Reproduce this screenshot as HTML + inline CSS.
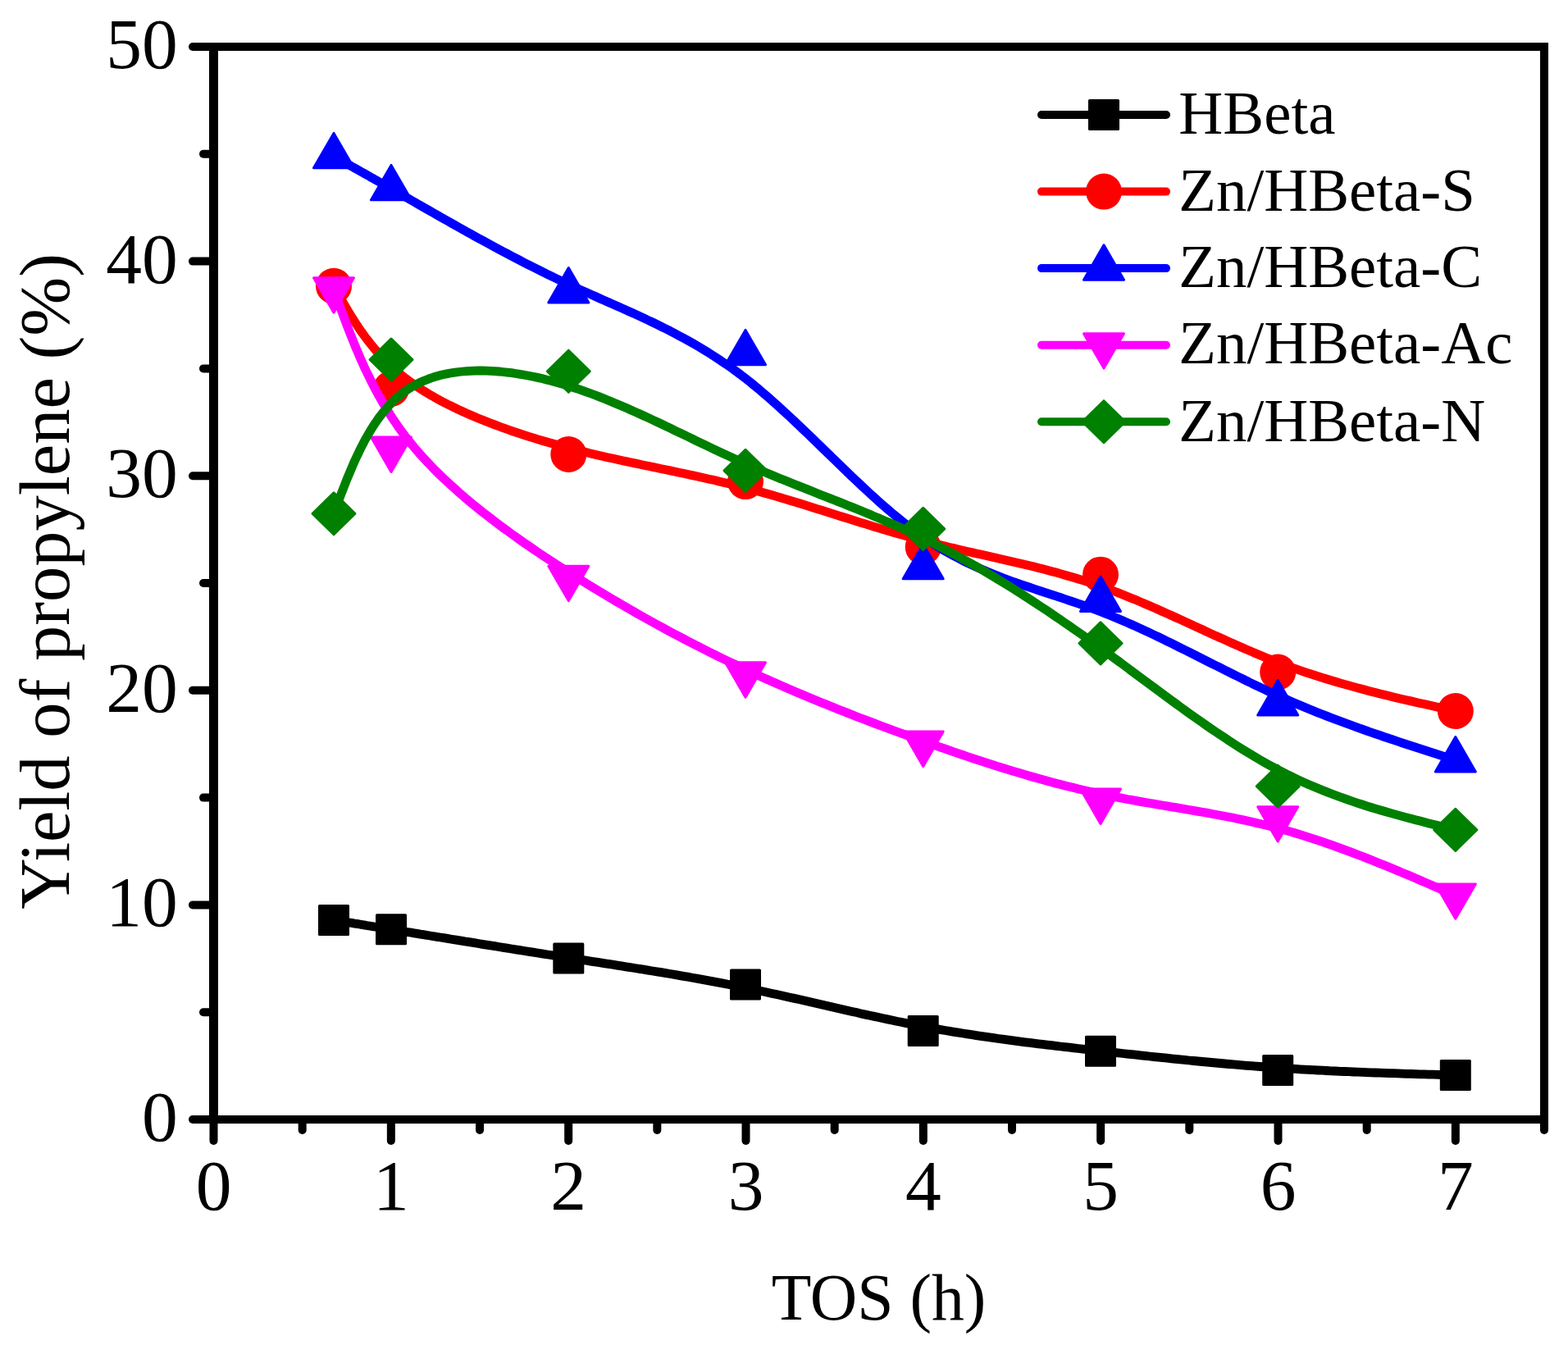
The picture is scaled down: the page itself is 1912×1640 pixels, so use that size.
<!DOCTYPE html>
<html><head><meta charset="utf-8"><title>Yield of propylene vs TOS</title>
<style>
html,body{margin:0;padding:0;background:#fff;}
body{width:1912px;height:1640px;overflow:hidden;}
svg{display:block;font-family:"Liberation Serif","Times New Roman",serif;fill:#000;}
</style></head>
<body>
<svg width="1912" height="1640" viewBox="0 0 1912 1640">
<rect width="1912" height="1640" fill="#fff"/>
<g stroke="#000" stroke-width="10" stroke-linecap="round" fill="none"><line x1="258" y1="1365.00" x2="235.0" y2="1365.00"/><line x1="258" y1="1234.20" x2="248.0" y2="1234.20"/><line x1="258" y1="1103.40" x2="235.0" y2="1103.40"/><line x1="258" y1="972.60" x2="248.0" y2="972.60"/><line x1="258" y1="841.80" x2="235.0" y2="841.80"/><line x1="258" y1="711.00" x2="248.0" y2="711.00"/><line x1="258" y1="580.20" x2="235.0" y2="580.20"/><line x1="258" y1="449.40" x2="248.0" y2="449.40"/><line x1="258" y1="318.60" x2="235.0" y2="318.60"/><line x1="258" y1="187.80" x2="248.0" y2="187.80"/><line x1="258" y1="57.00" x2="235.0" y2="57.00"/><line x1="260.50" y1="1367" x2="260.50" y2="1391.0"/><line x1="368.67" y1="1367" x2="368.67" y2="1378.0"/><line x1="476.83" y1="1367" x2="476.83" y2="1391.0"/><line x1="585.00" y1="1367" x2="585.00" y2="1378.0"/><line x1="693.17" y1="1367" x2="693.17" y2="1391.0"/><line x1="801.33" y1="1367" x2="801.33" y2="1378.0"/><line x1="909.50" y1="1367" x2="909.50" y2="1391.0"/><line x1="1017.67" y1="1367" x2="1017.67" y2="1378.0"/><line x1="1125.83" y1="1367" x2="1125.83" y2="1391.0"/><line x1="1234.00" y1="1367" x2="1234.00" y2="1378.0"/><line x1="1342.17" y1="1367" x2="1342.17" y2="1391.0"/><line x1="1450.33" y1="1367" x2="1450.33" y2="1378.0"/><line x1="1558.50" y1="1367" x2="1558.50" y2="1391.0"/><line x1="1666.67" y1="1367" x2="1666.67" y2="1378.0"/><line x1="1774.83" y1="1367" x2="1774.83" y2="1391.0"/><line x1="1883.00" y1="1367" x2="1883.00" y2="1378.0"/></g>
<g fill="#000"><rect x="255" y="52" width="1633" height="10"/><rect x="255" y="1360" width="1633" height="10"/><rect x="255" y="52" width="11" height="1318"/><rect x="1878" y="52" width="10" height="1318"/></g>
<g font-size="87.5"><text x="216.8" y="1391.0" text-anchor="end">0</text><text x="216.8" y="1129.4" text-anchor="end">10</text><text x="216.8" y="867.8" text-anchor="end">20</text><text x="216.8" y="606.2" text-anchor="end">30</text><text x="216.8" y="344.6" text-anchor="end">40</text><text x="216.8" y="83.0" text-anchor="end">50</text><text x="260.5" y="1474.8" text-anchor="middle">0</text><text x="476.8" y="1474.8" text-anchor="middle">1</text><text x="693.2" y="1474.8" text-anchor="middle">2</text><text x="909.5" y="1474.8" text-anchor="middle">3</text><text x="1125.8" y="1474.8" text-anchor="middle">4</text><text x="1342.2" y="1474.8" text-anchor="middle">5</text><text x="1558.5" y="1474.8" text-anchor="middle">6</text><text x="1774.8" y="1474.8" text-anchor="middle">7</text></g>
<text x="1071.5" y="1608.6" text-anchor="middle" font-size="79.6">TOS (h)</text>
<text transform="translate(83.7 1108.8) rotate(-90)" x="0" y="0" font-size="86.5">Yield of propylene (%)</text>
<path d="M407.0 1121.9L408.8 1122.2 410.5 1122.5 412.3 1122.8 414.0 1123.0 415.8 1123.3 417.6 1123.6 419.4 1123.9 421.2 1124.2 423.0 1124.5 424.9 1124.8 426.8 1125.1 428.7 1125.4 430.6 1125.7 432.5 1126.1 434.5 1126.4 436.6 1126.7 438.6 1127.0 440.7 1127.4 442.9 1127.7 445.0 1128.1 447.3 1128.5 449.6 1128.8 451.9 1129.2 454.3 1129.6 456.7 1130.0 459.2 1130.4 461.7 1130.8 464.4 1131.2 467.0 1131.7 469.8 1132.1 472.6 1132.6 475.5 1133.0 478.4 1133.5 481.5 1134.0 484.6 1134.5 487.8 1135.0 491.0 1135.6 494.4 1136.1 497.8 1136.7 501.4 1137.2 505.0 1137.8 508.7 1138.4 512.5 1139.1 516.4 1139.7 520.4 1140.3 524.4 1141.0 528.5 1141.7 532.7 1142.3 537.0 1143.0 541.4 1143.7 545.8 1144.4 550.3 1145.2 554.8 1145.9 559.4 1146.6 564.1 1147.4 568.8 1148.2 573.6 1148.9 578.4 1149.7 583.3 1150.5 588.2 1151.3 593.2 1152.1 598.2 1152.9 603.2 1153.7 608.3 1154.5 613.4 1155.3 618.6 1156.1 623.8 1157.0 629.0 1157.8 634.3 1158.6 639.6 1159.5 644.9 1160.3 650.2 1161.1 655.5 1162.0 660.9 1162.8 666.2 1163.7 671.6 1164.5 677.0 1165.4 682.4 1166.2 687.8 1167.0 693.2 1167.9 698.6 1168.7 704.0 1169.6 709.4 1170.4 714.8 1171.2 720.2 1172.1 725.6 1172.9 731.0 1173.7 736.4 1174.6 741.8 1175.4 747.2 1176.2 752.6 1177.1 758.0 1177.9 763.4 1178.8 768.8 1179.6 774.2 1180.5 779.6 1181.3 785.0 1182.2 790.4 1183.1 795.8 1184.0 801.2 1184.8 806.6 1185.7 812.0 1186.6 817.4 1187.5 822.7 1188.4 828.1 1189.4 833.5 1190.3 838.9 1191.2 844.3 1192.2 849.7 1193.1 855.1 1194.1 860.5 1195.1 865.9 1196.1 871.3 1197.1 876.7 1198.1 882.1 1199.1 887.6 1200.2 893.0 1201.2 898.4 1202.3 903.8 1203.4 909.2 1204.5 914.6 1205.6 920.0 1206.7 925.4 1207.9 930.8 1209.0 936.2 1210.2 941.6 1211.4 947.0 1212.6 952.4 1213.7 957.8 1215.0 963.2 1216.2 968.7 1217.4 974.1 1218.6 979.5 1219.8 984.9 1221.1 990.3 1222.3 995.7 1223.5 1001.1 1224.8 1006.5 1226.0 1011.9 1227.3 1017.4 1228.5 1022.8 1229.7 1028.2 1231.0 1033.6 1232.2 1039.0 1233.4 1044.4 1234.6 1049.8 1235.9 1055.3 1237.1 1060.7 1238.3 1066.1 1239.4 1071.5 1240.6 1076.9 1241.8 1082.3 1242.9 1087.7 1244.1 1093.2 1245.2 1098.6 1246.3 1104.0 1247.4 1109.4 1248.5 1114.8 1249.6 1120.2 1250.6 1125.6 1251.6 1131.0 1252.6 1136.5 1253.6 1141.9 1254.6 1147.3 1255.6 1152.7 1256.5 1158.1 1257.4 1163.5 1258.3 1168.9 1259.2 1174.3 1260.0 1179.7 1260.9 1185.2 1261.7 1190.6 1262.6 1196.0 1263.4 1201.4 1264.2 1206.8 1264.9 1212.2 1265.7 1217.6 1266.5 1223.0 1267.2 1228.4 1267.9 1233.8 1268.7 1239.2 1269.4 1244.7 1270.1 1250.1 1270.8 1255.5 1271.4 1260.9 1272.1 1266.3 1272.8 1271.7 1273.4 1277.1 1274.1 1282.5 1274.7 1287.9 1275.4 1293.3 1276.0 1298.7 1276.6 1304.1 1277.2 1309.5 1277.9 1315.0 1278.5 1320.4 1279.1 1325.8 1279.7 1331.2 1280.3 1336.6 1280.9 1342.0 1281.5 1347.4 1282.1 1352.8 1282.7 1358.2 1283.3 1363.6 1283.9 1369.0 1284.5 1374.4 1285.1 1379.8 1285.7 1385.2 1286.2 1390.6 1286.8 1396.0 1287.4 1401.5 1288.0 1406.9 1288.6 1412.3 1289.1 1417.7 1289.7 1423.1 1290.2 1428.5 1290.8 1433.9 1291.3 1439.3 1291.9 1444.7 1292.4 1450.1 1293.0 1455.5 1293.5 1460.9 1294.0 1466.3 1294.5 1471.7 1295.0 1477.1 1295.5 1482.5 1296.0 1488.0 1296.5 1493.4 1297.0 1498.8 1297.5 1504.2 1297.9 1509.6 1298.4 1515.0 1298.8 1520.4 1299.3 1525.8 1299.7 1531.2 1300.1 1536.6 1300.5 1542.0 1300.9 1547.4 1301.3 1552.9 1301.7 1558.3 1302.1 1563.7 1302.4 1569.1 1302.8 1574.5 1303.1 1579.9 1303.4 1585.3 1303.8 1590.7 1304.1 1596.1 1304.4 1601.6 1304.7 1607.0 1305.0 1612.4 1305.2 1617.8 1305.5 1623.2 1305.8 1628.6 1306.0 1634.0 1306.3 1639.4 1306.5 1644.9 1306.7 1650.3 1307.0 1655.7 1307.2 1661.1 1307.4 1666.5 1307.6 1671.9 1307.8 1677.3 1308.0 1682.8 1308.2 1688.2 1308.4 1693.6 1308.6 1699.0 1308.7 1704.4 1308.9 1709.8 1309.1 1715.2 1309.3 1720.7 1309.4 1726.1 1309.6 1731.5 1309.8 1736.9 1309.9 1742.3 1310.1 1747.7 1310.2 1753.1 1310.4 1758.6 1310.5 1764.0 1310.7 1769.4 1310.8 1774.8 1311.0" fill="none" stroke="black" stroke-width="10.8" stroke-linejoin="round" stroke-linecap="round"/>
<rect x="388.0" y="1102.9" width="38" height="38" rx="1.5" fill="black"/>
<rect x="458.0" y="1114.3" width="38" height="38" rx="1.5" fill="black"/>
<rect x="674.3" y="1149.4" width="38" height="38" rx="1.5" fill="black"/>
<rect x="890.0" y="1181.4" width="38" height="38" rx="1.5" fill="black"/>
<rect x="1106.7" y="1237.9" width="38" height="38" rx="1.5" fill="black"/>
<rect x="1323.0" y="1262.8" width="38" height="38" rx="1.5" fill="black"/>
<rect x="1539.2" y="1285.9" width="38" height="38" rx="1.5" fill="black"/>
<rect x="1755.8" y="1292.0" width="38" height="38" rx="1.5" fill="black"/>
<path d="M407.0 348.8L408.8 351.9 410.5 355.1 412.3 358.2 414.0 361.3 415.8 364.4 417.6 367.6 419.4 370.7 421.2 373.8 423.0 376.9 424.9 380.0 426.8 383.1 428.7 386.2 430.6 389.2 432.5 392.3 434.5 395.4 436.6 398.4 438.6 401.4 440.7 404.5 442.9 407.5 445.0 410.5 447.3 413.4 449.6 416.4 451.9 419.4 454.3 422.3 456.7 425.2 459.2 428.1 461.7 431.0 464.4 433.9 467.0 436.7 469.8 439.5 472.6 442.3 475.5 445.1 478.4 447.9 481.5 450.6 484.6 453.3 487.8 456.0 491.0 458.6 494.4 461.3 497.8 463.9 501.4 466.5 505.0 469.0 508.7 471.5 512.5 474.0 516.4 476.5 520.4 478.9 524.4 481.3 528.5 483.7 532.7 486.1 537.0 488.4 541.4 490.7 545.8 493.0 550.3 495.2 554.8 497.4 559.4 499.6 564.1 501.7 568.8 503.9 573.6 506.0 578.4 508.0 583.3 510.1 588.2 512.1 593.2 514.1 598.2 516.0 603.2 517.9 608.3 519.8 613.4 521.7 618.6 523.5 623.8 525.3 629.0 527.1 634.3 528.9 639.6 530.6 644.9 532.3 650.2 533.9 655.5 535.6 660.9 537.2 666.2 538.7 671.6 540.3 677.0 541.8 682.4 543.3 687.8 544.8 693.2 546.2 698.6 547.6 704.0 549.0 709.4 550.3 714.8 551.6 720.2 552.9 725.6 554.2 731.0 555.4 736.4 556.7 741.8 557.9 747.2 559.1 752.6 560.3 758.0 561.5 763.4 562.6 768.8 563.8 774.2 564.9 779.6 566.1 785.0 567.2 790.4 568.3 795.8 569.4 801.2 570.5 806.6 571.7 812.0 572.8 817.4 573.9 822.7 575.0 828.1 576.2 833.5 577.3 838.9 578.5 844.3 579.6 849.7 580.8 855.1 582.0 860.5 583.2 865.9 584.4 871.3 585.6 876.7 586.9 882.1 588.2 887.6 589.5 893.0 590.8 898.4 592.1 903.8 593.5 909.2 594.9 914.6 596.3 920.0 597.8 925.4 599.3 930.8 600.8 936.2 602.3 941.6 603.8 947.0 605.4 952.4 607.0 957.8 608.6 963.2 610.2 968.7 611.9 974.1 613.5 979.5 615.2 984.9 616.9 990.3 618.6 995.7 620.3 1001.1 621.9 1006.5 623.7 1011.9 625.4 1017.4 627.1 1022.8 628.8 1028.2 630.5 1033.6 632.2 1039.0 633.9 1044.4 635.6 1049.8 637.3 1055.3 638.9 1060.7 640.6 1066.1 642.3 1071.5 643.9 1076.9 645.5 1082.3 647.1 1087.7 648.7 1093.2 650.3 1098.6 651.9 1104.0 653.4 1109.4 654.9 1114.8 656.4 1120.2 657.9 1125.6 659.3 1131.0 660.7 1136.5 662.1 1141.9 663.4 1147.3 664.8 1152.7 666.1 1158.1 667.4 1163.5 668.6 1168.9 669.9 1174.3 671.2 1179.7 672.4 1185.2 673.6 1190.6 674.9 1196.0 676.1 1201.4 677.3 1206.8 678.5 1212.2 679.7 1217.6 680.9 1223.0 682.2 1228.4 683.4 1233.8 684.7 1239.2 685.9 1244.7 687.2 1250.1 688.5 1255.5 689.8 1260.9 691.1 1266.3 692.5 1271.7 693.8 1277.1 695.2 1282.5 696.7 1287.9 698.1 1293.3 699.6 1298.7 701.2 1304.1 702.7 1309.5 704.3 1315.0 706.0 1320.4 707.7 1325.8 709.4 1331.2 711.2 1336.6 713.0 1342.0 714.9 1347.4 716.8 1352.8 718.8 1358.2 720.8 1363.6 722.9 1369.0 725.0 1374.4 727.2 1379.8 729.4 1385.2 731.6 1390.6 733.9 1396.0 736.2 1401.5 738.5 1406.9 740.9 1412.3 743.3 1417.7 745.7 1423.1 748.1 1428.5 750.5 1433.9 753.0 1439.3 755.4 1444.7 757.9 1450.1 760.4 1455.5 762.9 1460.9 765.4 1466.3 767.8 1471.7 770.3 1477.1 772.8 1482.5 775.3 1488.0 777.7 1493.4 780.2 1498.8 782.6 1504.2 785.0 1509.6 787.4 1515.0 789.8 1520.4 792.1 1525.8 794.4 1531.2 796.7 1536.6 799.0 1542.0 801.2 1547.4 803.4 1552.9 805.5 1558.3 807.6 1563.7 809.7 1569.1 811.7 1574.5 813.7 1579.9 815.6 1585.3 817.5 1590.7 819.3 1596.1 821.1 1601.6 822.9 1607.0 824.7 1612.4 826.4 1617.8 828.0 1623.2 829.7 1628.6 831.3 1634.0 832.9 1639.4 834.4 1644.9 835.9 1650.3 837.4 1655.7 838.9 1661.1 840.3 1666.5 841.8 1671.9 843.2 1677.3 844.5 1682.8 845.9 1688.2 847.2 1693.6 848.6 1699.0 849.9 1704.4 851.2 1709.8 852.4 1715.2 853.7 1720.7 854.9 1726.1 856.2 1731.5 857.4 1736.9 858.6 1742.3 859.8 1747.7 861.0 1753.1 862.2 1758.6 863.4 1764.0 864.6 1769.4 865.8 1774.8 867.0" fill="none" stroke="#ff0000" stroke-width="10.8" stroke-linejoin="round" stroke-linecap="round"/>
<circle cx="407.0" cy="348.8" r="22" fill="#ff0000"/>
<circle cx="477.0" cy="474.0" r="22" fill="#ff0000"/>
<circle cx="693.3" cy="554.0" r="22" fill="#ff0000"/>
<circle cx="909.0" cy="587.1" r="22" fill="#ff0000"/>
<circle cx="1125.7" cy="667.0" r="22" fill="#ff0000"/>
<circle cx="1342.0" cy="700.7" r="22" fill="#ff0000"/>
<circle cx="1558.2" cy="819.5" r="22" fill="#ff0000"/>
<circle cx="1774.8" cy="867.0" r="22" fill="#ff0000"/>
<path d="M407.0 190.7L408.8 191.7 410.5 192.7 412.3 193.6 414.0 194.6 415.8 195.6 417.6 196.6 419.4 197.6 421.2 198.6 423.0 199.6 424.9 200.7 426.8 201.7 428.7 202.8 430.6 203.9 432.5 205.0 434.5 206.1 436.6 207.2 438.6 208.4 440.7 209.6 442.9 210.8 445.0 212.0 447.3 213.3 449.6 214.5 451.9 215.9 454.3 217.2 456.7 218.6 459.2 220.0 461.7 221.4 464.4 222.9 467.0 224.4 469.8 226.0 472.6 227.6 475.5 229.3 478.4 230.9 481.5 232.7 484.6 234.4 487.8 236.3 491.0 238.1 494.4 240.1 497.8 242.0 501.4 244.1 505.0 246.1 508.7 248.3 512.5 250.5 516.4 252.7 520.4 255.0 524.4 257.3 528.5 259.6 532.7 262.0 537.0 264.5 541.4 266.9 545.8 269.4 550.3 272.0 554.8 274.5 559.4 277.1 564.1 279.7 568.8 282.4 573.6 285.0 578.4 287.7 583.3 290.4 588.2 293.1 593.2 295.8 598.2 298.5 603.2 301.2 608.3 304.0 613.4 306.7 618.6 309.4 623.8 312.2 629.0 314.9 634.3 317.6 639.6 320.4 644.9 323.1 650.2 325.8 655.5 328.4 660.9 331.1 666.2 333.8 671.6 336.4 677.0 339.0 682.4 341.6 687.8 344.1 693.2 346.7 698.6 349.2 704.0 351.6 709.4 354.1 714.8 356.5 720.2 358.9 725.6 361.3 731.0 363.7 736.4 366.1 741.8 368.5 747.2 370.9 752.6 373.2 758.0 375.6 763.4 378.1 768.8 380.5 774.2 382.9 779.6 385.4 785.0 387.9 790.4 390.5 795.8 393.0 801.2 395.6 806.6 398.3 812.0 401.0 817.4 403.7 822.7 406.5 828.1 409.4 833.5 412.3 838.9 415.3 844.3 418.3 849.7 421.4 855.1 424.6 860.5 427.9 865.9 431.3 871.3 434.7 876.7 438.3 882.1 441.9 887.6 445.6 893.0 449.4 898.4 453.4 903.8 457.4 909.2 461.6 914.6 465.8 920.0 470.2 925.4 474.7 930.8 479.3 936.2 483.9 941.6 488.7 947.0 493.5 952.4 498.4 957.8 503.4 963.2 508.4 968.7 513.5 974.1 518.6 979.5 523.8 984.9 528.9 990.3 534.2 995.7 539.4 1001.1 544.7 1006.5 549.9 1011.9 555.2 1017.4 560.4 1022.8 565.7 1028.2 570.9 1033.6 576.1 1039.0 581.3 1044.4 586.4 1049.8 591.5 1055.3 596.6 1060.7 601.6 1066.1 606.5 1071.5 611.4 1076.9 616.2 1082.3 620.9 1087.7 625.5 1093.2 630.0 1098.6 634.4 1104.0 638.7 1109.4 642.9 1114.8 647.0 1120.2 651.0 1125.6 654.8 1131.0 658.5 1136.5 662.0 1141.9 665.5 1147.3 668.8 1152.7 672.0 1158.1 675.0 1163.5 678.0 1168.9 680.8 1174.3 683.6 1179.7 686.3 1185.2 688.8 1190.6 691.3 1196.0 693.7 1201.4 696.0 1206.8 698.3 1212.2 700.5 1217.6 702.6 1223.0 704.7 1228.4 706.7 1233.8 708.7 1239.2 710.6 1244.7 712.5 1250.1 714.4 1255.5 716.2 1260.9 718.0 1266.3 719.8 1271.7 721.6 1277.1 723.4 1282.5 725.2 1287.9 726.9 1293.3 728.7 1298.7 730.5 1304.1 732.3 1309.5 734.1 1315.0 736.0 1320.4 737.9 1325.8 739.8 1331.2 741.7 1336.6 743.7 1342.0 745.8 1347.4 747.9 1352.8 750.0 1358.2 752.2 1363.6 754.5 1369.0 756.8 1374.4 759.1 1379.8 761.5 1385.2 763.9 1390.6 766.4 1396.0 768.9 1401.5 771.4 1406.9 774.0 1412.3 776.5 1417.7 779.1 1423.1 781.8 1428.5 784.4 1433.9 787.1 1439.3 789.8 1444.7 792.5 1450.1 795.2 1455.5 797.9 1460.9 800.6 1466.3 803.3 1471.7 806.1 1477.1 808.8 1482.5 811.5 1488.0 814.2 1493.4 817.0 1498.8 819.7 1504.2 822.4 1509.6 825.0 1515.0 827.7 1520.4 830.4 1525.8 833.0 1531.2 835.6 1536.6 838.2 1542.0 840.7 1547.4 843.3 1552.9 845.8 1558.3 848.2 1563.7 850.6 1569.1 853.0 1574.5 855.4 1579.9 857.7 1585.3 860.0 1590.7 862.3 1596.1 864.5 1601.6 866.7 1607.0 868.9 1612.4 871.0 1617.8 873.1 1623.2 875.2 1628.6 877.3 1634.0 879.3 1639.4 881.3 1644.9 883.3 1650.3 885.3 1655.7 887.3 1661.1 889.2 1666.5 891.1 1671.9 893.0 1677.3 894.9 1682.8 896.7 1688.2 898.6 1693.6 900.4 1699.0 902.2 1704.4 904.0 1709.8 905.8 1715.2 907.6 1720.7 909.4 1726.1 911.2 1731.5 912.9 1736.9 914.7 1742.3 916.4 1747.7 918.2 1753.1 919.9 1758.6 921.6 1764.0 923.3 1769.4 925.1 1774.8 926.8" fill="none" stroke="#0000ff" stroke-width="10.8" stroke-linejoin="round" stroke-linecap="round"/>
<path d="M407.0 162.4 L431.5 204.8 L382.5 204.8Z" fill="#0000ff" stroke="#0000ff" stroke-width="3" stroke-linejoin="round"/>
<path d="M477.0 201.4 L501.5 243.8 L452.5 243.8Z" fill="#0000ff" stroke="#0000ff" stroke-width="3" stroke-linejoin="round"/>
<path d="M693.3 326.6 L717.8 369.0 L668.8 369.0Z" fill="#0000ff" stroke="#0000ff" stroke-width="3" stroke-linejoin="round"/>
<path d="M909.0 402.4 L933.5 444.8 L884.5 444.8Z" fill="#0000ff" stroke="#0000ff" stroke-width="3" stroke-linejoin="round"/>
<path d="M1125.7 663.4 L1150.2 705.8 L1101.2 705.8Z" fill="#0000ff" stroke="#0000ff" stroke-width="3" stroke-linejoin="round"/>
<path d="M1342.0 703.0 L1366.5 745.4 L1317.5 745.4Z" fill="#0000ff" stroke="#0000ff" stroke-width="3" stroke-linejoin="round"/>
<path d="M1558.2 829.5 L1582.7 871.9 L1533.7 871.9Z" fill="#0000ff" stroke="#0000ff" stroke-width="3" stroke-linejoin="round"/>
<path d="M1774.8 898.5 L1799.3 940.9 L1750.3 940.9Z" fill="#0000ff" stroke="#0000ff" stroke-width="3" stroke-linejoin="round"/>
<path d="M407.0 352.9L408.8 357.8 410.5 362.6 412.3 367.5 414.0 372.3 415.8 377.2 417.6 382.0 419.4 386.9 421.2 391.7 423.0 396.5 424.9 401.4 426.8 406.2 428.7 411.0 430.6 415.8 432.5 420.6 434.5 425.4 436.6 430.2 438.6 435.0 440.7 439.8 442.9 444.5 445.0 449.3 447.3 454.0 449.6 458.7 451.9 463.4 454.3 468.1 456.7 472.8 459.2 477.5 461.7 482.1 464.4 486.8 467.0 491.4 469.8 496.0 472.6 500.6 475.5 505.2 478.4 509.7 481.5 514.2 484.6 518.8 487.8 523.3 491.0 527.7 494.4 532.2 497.8 536.6 501.4 541.0 505.0 545.4 508.7 549.7 512.5 554.1 516.4 558.4 520.4 562.7 524.4 566.9 528.5 571.2 532.7 575.4 537.0 579.6 541.4 583.8 545.8 587.9 550.3 592.0 554.8 596.1 559.4 600.2 564.1 604.3 568.8 608.3 573.6 612.3 578.4 616.3 583.3 620.2 588.2 624.2 593.2 628.1 598.2 631.9 603.2 635.8 608.3 639.6 613.4 643.5 618.6 647.2 623.8 651.0 629.0 654.7 634.3 658.5 639.6 662.2 644.9 665.8 650.2 669.5 655.5 673.1 660.9 676.7 666.2 680.2 671.6 683.8 677.0 687.3 682.4 690.8 687.8 694.3 693.2 697.7 698.6 701.1 704.0 704.5 709.4 707.9 714.8 711.3 720.2 714.6 725.6 717.9 731.0 721.2 736.4 724.4 741.8 727.6 747.2 730.8 752.6 734.0 758.0 737.2 763.4 740.3 768.8 743.4 774.2 746.5 779.6 749.6 785.0 752.6 790.4 755.6 795.8 758.6 801.2 761.6 806.6 764.5 812.0 767.5 817.4 770.4 822.7 773.2 828.1 776.1 833.5 778.9 838.9 781.7 844.3 784.5 849.7 787.3 855.1 790.0 860.5 792.8 865.9 795.5 871.3 798.2 876.7 800.8 882.1 803.5 887.6 806.1 893.0 808.7 898.4 811.2 903.8 813.8 909.2 816.3 914.6 818.8 920.0 821.3 925.4 823.8 930.8 826.3 936.2 828.7 941.6 831.1 947.0 833.5 952.4 835.9 957.8 838.2 963.2 840.6 968.7 842.9 974.1 845.2 979.5 847.5 984.9 849.7 990.3 852.0 995.7 854.2 1001.1 856.4 1006.5 858.6 1011.9 860.8 1017.4 863.0 1022.8 865.2 1028.2 867.3 1033.6 869.4 1039.0 871.6 1044.4 873.7 1049.8 875.7 1055.3 877.8 1060.7 879.9 1066.1 881.9 1071.5 884.0 1076.9 886.0 1082.3 888.0 1087.7 890.0 1093.2 892.0 1098.6 894.0 1104.0 895.9 1109.4 897.9 1114.8 899.9 1120.2 901.8 1125.6 903.7 1131.0 905.7 1136.5 907.6 1141.9 909.5 1147.3 911.4 1152.7 913.2 1158.1 915.1 1163.5 917.0 1168.9 918.8 1174.3 920.7 1179.7 922.5 1185.2 924.3 1190.6 926.1 1196.0 927.8 1201.4 929.6 1206.8 931.3 1212.2 933.1 1217.6 934.8 1223.0 936.5 1228.4 938.1 1233.8 939.8 1239.2 941.4 1244.7 943.0 1250.1 944.6 1255.5 946.2 1260.9 947.8 1266.3 949.3 1271.7 950.8 1277.1 952.3 1282.5 953.7 1287.9 955.2 1293.3 956.6 1298.7 958.0 1304.1 959.3 1309.5 960.6 1315.0 962.0 1320.4 963.2 1325.8 964.5 1331.2 965.7 1336.6 966.9 1342.0 968.0 1347.4 969.2 1352.8 970.3 1358.2 971.4 1363.6 972.4 1369.0 973.4 1374.4 974.5 1379.8 975.4 1385.2 976.4 1390.6 977.4 1396.0 978.3 1401.5 979.3 1406.9 980.2 1412.3 981.1 1417.7 982.0 1423.1 982.9 1428.5 983.8 1433.9 984.7 1439.3 985.6 1444.7 986.5 1450.1 987.5 1455.5 988.4 1460.9 989.3 1466.3 990.3 1471.7 991.2 1477.1 992.2 1482.5 993.2 1488.0 994.2 1493.4 995.2 1498.8 996.3 1504.2 997.3 1509.6 998.5 1515.0 999.6 1520.4 1000.7 1525.8 1001.9 1531.2 1003.2 1536.6 1004.4 1542.0 1005.7 1547.4 1007.1 1552.9 1008.5 1558.3 1009.9 1563.7 1011.4 1569.1 1012.9 1574.5 1014.4 1579.9 1016.0 1585.3 1017.7 1590.7 1019.4 1596.1 1021.1 1601.6 1022.8 1607.0 1024.6 1612.4 1026.4 1617.8 1028.3 1623.2 1030.2 1628.6 1032.1 1634.0 1034.1 1639.4 1036.1 1644.9 1038.1 1650.3 1040.1 1655.7 1042.2 1661.1 1044.3 1666.5 1046.4 1671.9 1048.5 1677.3 1050.7 1682.8 1052.9 1688.2 1055.1 1693.6 1057.3 1699.0 1059.5 1704.4 1061.8 1709.8 1064.1 1715.2 1066.3 1720.7 1068.6 1726.1 1070.9 1731.5 1073.3 1736.9 1075.6 1742.3 1077.9 1747.7 1080.2 1753.1 1082.6 1758.6 1084.9 1764.0 1087.3 1769.4 1089.6 1774.8 1092.0" fill="none" stroke="#ff00ff" stroke-width="10.8" stroke-linejoin="round" stroke-linecap="round"/>
<path d="M407.0 381.2 L431.5 338.8 L382.5 338.8Z" fill="#ff00ff" stroke="#ff00ff" stroke-width="3" stroke-linejoin="round"/>
<path d="M477.0 575.5 L501.5 533.1 L452.5 533.1Z" fill="#ff00ff" stroke="#ff00ff" stroke-width="3" stroke-linejoin="round"/>
<path d="M693.3 732.6 L717.8 690.2 L668.8 690.2Z" fill="#ff00ff" stroke="#ff00ff" stroke-width="3" stroke-linejoin="round"/>
<path d="M909.0 850.2 L933.5 807.8 L884.5 807.8Z" fill="#ff00ff" stroke="#ff00ff" stroke-width="3" stroke-linejoin="round"/>
<path d="M1125.7 934.4 L1150.2 892.0 L1101.2 892.0Z" fill="#ff00ff" stroke="#ff00ff" stroke-width="3" stroke-linejoin="round"/>
<path d="M1342.0 1004.4 L1366.5 962.0 L1317.5 962.0Z" fill="#ff00ff" stroke="#ff00ff" stroke-width="3" stroke-linejoin="round"/>
<path d="M1558.2 1026.1 L1582.7 983.7 L1533.7 983.7Z" fill="#ff00ff" stroke="#ff00ff" stroke-width="3" stroke-linejoin="round"/>
<path d="M1774.8 1120.3 L1799.3 1077.9 L1750.3 1077.9Z" fill="#ff00ff" stroke="#ff00ff" stroke-width="3" stroke-linejoin="round"/>
<path d="M407.0 626.3L408.8 621.6 410.5 616.9 412.3 612.2 414.0 607.6 415.8 602.9 417.6 598.2 419.4 593.6 421.2 589.0 423.0 584.4 424.9 579.9 426.8 575.4 428.7 570.9 430.6 566.4 432.5 562.0 434.5 557.7 436.6 553.3 438.6 549.1 440.7 544.9 442.9 540.7 445.0 536.6 447.3 532.6 449.6 528.6 451.9 524.7 454.3 520.9 456.7 517.1 459.2 513.5 461.7 509.9 464.4 506.4 467.0 503.0 469.8 499.7 472.6 496.4 475.5 493.3 478.4 490.3 481.5 487.3 484.6 484.5 487.8 481.8 491.0 479.2 494.4 476.8 497.8 474.4 501.4 472.2 505.0 470.1 508.7 468.1 512.5 466.2 516.4 464.5 520.4 462.9 524.4 461.4 528.5 460.0 532.7 458.7 537.0 457.6 541.4 456.5 545.8 455.6 550.3 454.8 554.8 454.1 559.4 453.5 564.1 453.0 568.8 452.6 573.6 452.3 578.4 452.1 583.3 452.0 588.2 452.0 593.2 452.1 598.2 452.3 603.2 452.6 608.3 453.0 613.4 453.5 618.6 454.1 623.8 454.7 629.0 455.5 634.3 456.3 639.6 457.2 644.9 458.2 650.2 459.3 655.5 460.4 660.9 461.6 666.2 462.9 671.6 464.3 677.0 465.8 682.4 467.3 687.8 468.9 693.2 470.5 698.6 472.3 704.0 474.0 709.4 475.9 714.8 477.8 720.2 479.8 725.6 481.8 731.0 483.9 736.4 486.0 741.8 488.2 747.2 490.4 752.6 492.7 758.0 495.0 763.4 497.3 768.8 499.7 774.2 502.1 779.6 504.5 785.0 507.0 790.4 509.4 795.8 512.0 801.2 514.5 806.6 517.0 812.0 519.6 817.4 522.2 822.7 524.8 828.1 527.3 833.5 529.9 838.9 532.5 844.3 535.2 849.7 537.8 855.1 540.3 860.5 542.9 865.9 545.5 871.3 548.1 876.7 550.6 882.1 553.2 887.6 555.7 893.0 558.2 898.4 560.7 903.8 563.1 909.2 565.5 914.6 567.9 920.0 570.3 925.4 572.6 930.8 574.9 936.2 577.2 941.6 579.5 947.0 581.7 952.4 583.9 957.8 586.1 963.2 588.3 968.7 590.5 974.1 592.6 979.5 594.8 984.9 596.9 990.3 599.1 995.7 601.2 1001.1 603.4 1006.5 605.5 1011.9 607.6 1017.4 609.8 1022.8 611.9 1028.2 614.1 1033.6 616.3 1039.0 618.4 1044.4 620.6 1049.8 622.8 1055.3 625.0 1060.7 627.3 1066.1 629.6 1071.5 631.8 1076.9 634.1 1082.3 636.5 1087.7 638.8 1093.2 641.2 1098.6 643.7 1104.0 646.1 1109.4 648.6 1114.8 651.1 1120.2 653.7 1125.6 656.3 1131.0 659.0 1136.5 661.7 1141.9 664.4 1147.3 667.2 1152.7 670.0 1158.1 672.9 1163.5 675.8 1168.9 678.7 1174.3 681.7 1179.7 684.7 1185.2 687.7 1190.6 690.8 1196.0 693.9 1201.4 697.1 1206.8 700.3 1212.2 703.5 1217.6 706.8 1223.0 710.1 1228.4 713.4 1233.8 716.8 1239.2 720.2 1244.7 723.6 1250.1 727.1 1255.5 730.6 1260.9 734.1 1266.3 737.7 1271.7 741.2 1277.1 744.8 1282.5 748.5 1287.9 752.2 1293.3 755.8 1298.7 759.6 1304.1 763.3 1309.5 767.1 1315.0 770.9 1320.4 774.7 1325.8 778.5 1331.2 782.4 1336.6 786.3 1342.0 790.2 1347.4 794.1 1352.8 798.1 1358.2 802.1 1363.6 806.0 1369.0 810.0 1374.4 814.0 1379.8 818.1 1385.2 822.1 1390.6 826.1 1396.0 830.1 1401.5 834.1 1406.9 838.1 1412.3 842.1 1417.7 846.1 1423.1 850.1 1428.5 854.1 1433.9 858.0 1439.3 862.0 1444.7 865.9 1450.1 869.8 1455.5 873.6 1460.9 877.4 1466.3 881.2 1471.7 885.0 1477.1 888.7 1482.5 892.4 1488.0 896.0 1493.4 899.6 1498.8 903.2 1504.2 906.7 1509.6 910.2 1515.0 913.6 1520.4 916.9 1525.8 920.2 1531.2 923.4 1536.6 926.6 1542.0 929.7 1547.4 932.7 1552.9 935.6 1558.3 938.5 1563.7 941.3 1569.1 944.1 1574.5 946.7 1579.9 949.3 1585.3 951.8 1590.7 954.3 1596.1 956.7 1601.6 959.0 1607.0 961.3 1612.4 963.5 1617.8 965.6 1623.2 967.7 1628.6 969.8 1634.0 971.8 1639.4 973.7 1644.9 975.6 1650.3 977.5 1655.7 979.3 1661.1 981.0 1666.5 982.8 1671.9 984.5 1677.3 986.1 1682.8 987.7 1688.2 989.3 1693.6 990.9 1699.0 992.4 1704.4 993.9 1709.8 995.4 1715.2 996.9 1720.7 998.3 1726.1 999.7 1731.5 1001.1 1736.9 1002.5 1742.3 1003.9 1747.7 1005.2 1753.1 1006.6 1758.6 1007.9 1764.0 1009.2 1769.4 1010.6 1774.8 1011.9" fill="none" stroke="#008000" stroke-width="10.8" stroke-linejoin="round" stroke-linecap="round"/>
<path d="M407.0 600.8 L433.0 626.3 L407.0 651.8 L381.0 626.3Z" fill="#008000" stroke="#008000" stroke-width="3" stroke-linejoin="round"/>
<path d="M477.0 413.0 L503.0 438.5 L477.0 464.0 L451.0 438.5Z" fill="#008000" stroke="#008000" stroke-width="3" stroke-linejoin="round"/>
<path d="M693.3 427.2 L719.3 452.7 L693.3 478.2 L667.3 452.7Z" fill="#008000" stroke="#008000" stroke-width="3" stroke-linejoin="round"/>
<path d="M909.0 548.4 L935.0 573.9 L909.0 599.4 L883.0 573.9Z" fill="#008000" stroke="#008000" stroke-width="3" stroke-linejoin="round"/>
<path d="M1125.7 619.4 L1151.7 644.9 L1125.7 670.4 L1099.7 644.9Z" fill="#008000" stroke="#008000" stroke-width="3" stroke-linejoin="round"/>
<path d="M1342.0 758.9 L1368.0 784.4 L1342.0 809.9 L1316.0 784.4Z" fill="#008000" stroke="#008000" stroke-width="3" stroke-linejoin="round"/>
<path d="M1558.2 933.2 L1584.2 958.7 L1558.2 984.2 L1532.2 958.7Z" fill="#008000" stroke="#008000" stroke-width="3" stroke-linejoin="round"/>
<path d="M1774.8 986.4 L1800.8 1011.9 L1774.8 1037.4 L1748.8 1011.9Z" fill="#008000" stroke="#008000" stroke-width="3" stroke-linejoin="round"/>
<line x1="1270" y1="140.0" x2="1422" y2="140.0" stroke="black" stroke-width="10" stroke-linecap="round"/>
<rect x="1327.0" y="121.0" width="38" height="38" rx="1.5" fill="black"/>
<text x="1437.3" y="163.2" font-size="74.8">HBeta</text>
<line x1="1270" y1="233.6" x2="1422" y2="233.6" stroke="#ff0000" stroke-width="10" stroke-linecap="round"/>
<circle cx="1346.0" cy="233.6" r="22" fill="#ff0000"/>
<text x="1437.3" y="257.0" font-size="74.8">Zn/HBeta-S</text>
<line x1="1270" y1="327.1" x2="1422" y2="327.1" stroke="#0000ff" stroke-width="10" stroke-linecap="round"/>
<path d="M1346.0 298.8 L1370.5 341.2 L1321.5 341.2Z" fill="#0000ff" stroke="#0000ff" stroke-width="3" stroke-linejoin="round"/>
<text x="1437.3" y="350.0" font-size="74.8">Zn/HBeta-C</text>
<line x1="1270" y1="420.8" x2="1422" y2="420.8" stroke="#ff00ff" stroke-width="10" stroke-linecap="round"/>
<path d="M1346.0 449.1 L1370.5 406.7 L1321.5 406.7Z" fill="#ff00ff" stroke="#ff00ff" stroke-width="3" stroke-linejoin="round"/>
<text x="1437.3" y="443.3" font-size="74.8">Zn/HBeta-Ac</text>
<line x1="1270" y1="514.2" x2="1422" y2="514.2" stroke="#008000" stroke-width="10" stroke-linecap="round"/>
<path d="M1346.0 488.7 L1372.0 514.2 L1346.0 539.7 L1320.0 514.2Z" fill="#008000" stroke="#008000" stroke-width="3" stroke-linejoin="round"/>
<text x="1437.3" y="538.0" font-size="74.8">Zn/HBeta-N</text>
</svg>
</body></html>
